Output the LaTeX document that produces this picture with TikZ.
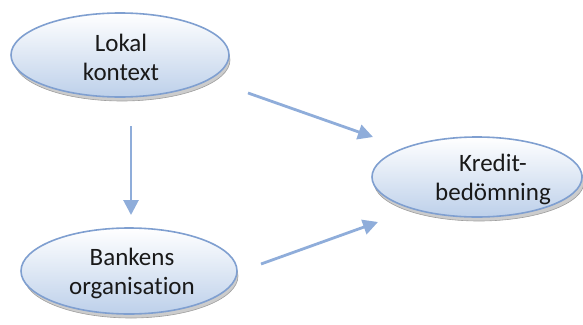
\documentclass[tikz,border=0pt]{standalone}
\usepackage{fontspec}
\setmainfont{Carlito}[Ligatures=NoCommon]
\usetikzlibrary{arrows.meta,shapes.geometric}
\definecolor{edgeblue}{HTML}{7F9FD0}
\definecolor{fillblue}{HTML}{BDD0EA}
\definecolor{arrowblue}{HTML}{8FADDA}
\tikzset{
  bubble/.style={ellipse, draw=edgeblue, line width=1.6pt,
    top color=white, bottom color=fillblue, shading angle=0,
    minimum width=#1, inner sep=0pt},
  caption/.style={align=center, font=\fontsize{25}{29}\selectfont,
    text=black!90, inner sep=0pt},
  depth/.style={ellipse, draw=gray!75, line width=0.6pt, fill=gray!40},
  flow/.style={arrowblue, line width=2.8pt,
    -{Triangle[length=15pt,width=15pt]}},
}
\begin{document}
\begin{tikzpicture}[x=1pt,y=-1pt]
  \useasboundingbox (0,0) rectangle (583,324);
  % extruded bottom edge of each bubble
  \node[depth, minimum width=216pt, minimum height=82pt] at (122,60) {};
  \node[depth, minimum width=210pt, minimum height=78pt] at (479,182) {};
  \node[depth, minimum width=214pt, minimum height=84pt] at (131,276) {};
  % bubbles
  \node[bubble=218pt, minimum height=84pt] (lok) at (120,55) {};
  \node[bubble=210pt, minimum height=80pt] (kred) at (477,177) {};
  \node[bubble=216pt, minimum height=86pt] (bank) at (129,271) {};
  % captions
  \node[caption] (lokT) at (121,57) {Lokal\\kontext};
  \node[caption] (kredT) at (493,179) {Kredit-\\bedömning};
  \node[caption] (bankT2) at (132,273) {Bankens\\organisation};
  % arrow end points
  \coordinate (lokS) at (131,126);
  \coordinate (bankT) at (131,215);
  \coordinate (lokE) at (248,93);
  \coordinate (kredA) at (373,137);
  \coordinate (bankE) at (261,264);
  \coordinate (kredB) at (378,222);
  \draw[flow] (lokS) -- (bankT);
  \draw[flow] (lokE) -- (kredA);
  \draw[flow] (bankE) -- (kredB);
\end{tikzpicture}
\end{document}
